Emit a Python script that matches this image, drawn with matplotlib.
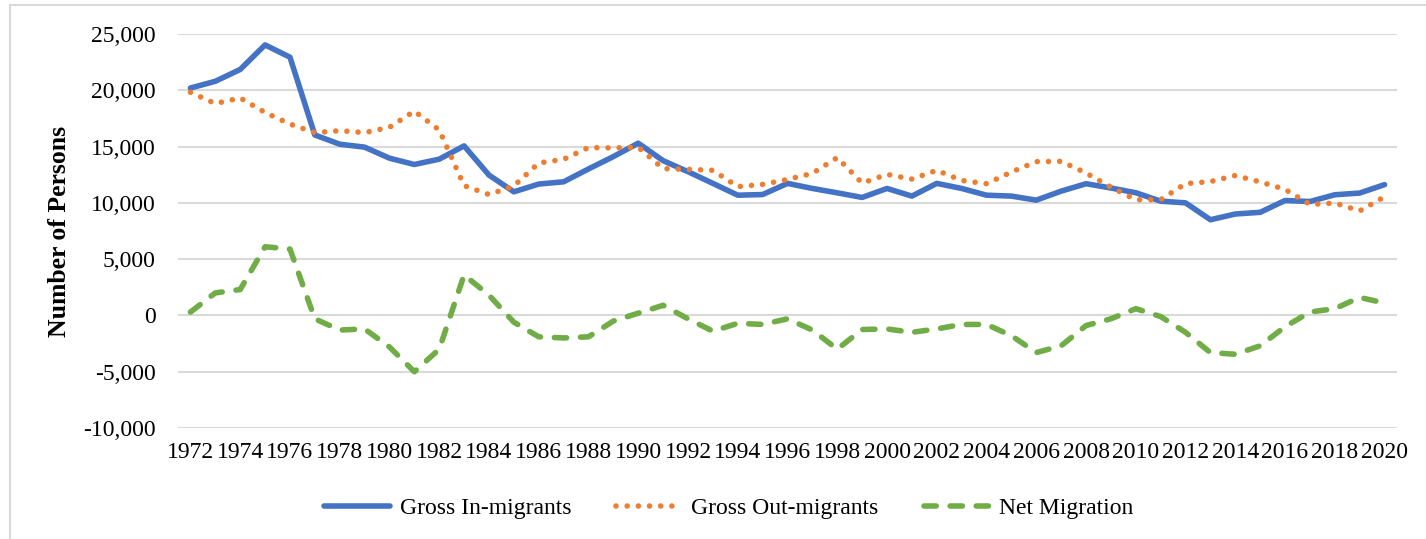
import matplotlib
matplotlib.use("Agg")
import matplotlib.pyplot as plt
from matplotlib.patches import Rectangle
from matplotlib.ticker import FuncFormatter

years = list(range(1972, 2021))
gross_in = [20200, 20800, 21850, 24030, 22940, 16030, 15210, 14950, 13970, 13410,
            13880, 15060, 12470, 10980, 11670, 11870, 13010, 14110, 15300, 13750,
            12770, 11730, 10680, 10740, 11730, 11280, 10890, 10480, 11280, 10600,
            11730, 11280, 10680, 10600, 10240, 11040, 11700, 11320, 10900, 10150,
            10000, 8500, 9010, 9160, 10210, 10120, 10720, 10870, 11620]
gross_out = [19820, 18820, 19320, 18030, 17000, 16240, 16410, 16240, 16710, 18150,
             16470, 11530, 10740, 11500, 13540, 13870, 14910, 14880, 14940, 13040,
             12980, 12890, 11440, 11640, 12080, 12620, 14020, 11760, 12530, 12110,
             12890, 11990, 11700, 12740, 13660, 13690, 12650, 11400, 10280, 10280,
             11710, 11890, 12430, 11860, 11200, 9860, 9980, 9290, 10540]
net = [300, 2000, 2300, 6100, 5900, -300, -1300, -1200, -2800, -5000,
       -3000, 3600, 1800, -600, -1900, -2000, -1900, -500, 200, 900,
       -300, -1400, -700, -800, -300, -1300, -3000, -1250, -1200, -1500,
       -1200, -800, -800, -1800, -3300, -2700, -900, -300, 600, -100,
       -1500, -3300, -3450, -2700, -1000, 300, 600, 1600, 1100]
xtick_labels = [str(y) for y in years[::2]]
yticks = [-10000, -5000, 0, 5000, 10000, 15000, 20000, 25000]
series_names = ["Gross In-migrants", "Gross Out-migrants", "Net Migration"]

plt.rcParams['font.family'] = ['Liberation Serif', 'DejaVu Serif']

fig = plt.figure(figsize=(14.26, 5.39), dpi=100)
ax = fig.add_axes([178/1426, 1-428/539, (1397-178)/1426, (428-34)/539])

# chart-area border (left and top edges visible)
fig.patches.append(Rectangle((10/1426, -0.1), 1.2, 1.1 - 5/539, transform=fig.transFigure,
                             fill=False, edgecolor='#D9D9D9', linewidth=1.5, zorder=0))

x = list(range(len(years)))
lw = 4.0
ax.plot(x, gross_in, color='#4472C4', lw=lw, solid_capstyle='round',
        solid_joinstyle='round', label=series_names[0], zorder=3)
ax.plot(x, gross_out, color='#ED7D31', lw=lw, linestyle=(0, (0.01, 2.0)),
        dash_capstyle='round', label=series_names[1], zorder=4)
ax.plot(x, net, color='#70AD47', lw=lw, linestyle=(0, (2.2, 2.5)),
        dash_capstyle='round', label=series_names[2], zorder=3)

ax.set_xlim(-0.5, len(years) - 0.5)
ax.set_ylim(-10000, 25000)
ax.set_yticks(yticks)
ax.yaxis.set_major_formatter(FuncFormatter(lambda v, p: f"{int(v):,}"))
ax.set_xticks(x[::2])
ax.set_xticklabels(xtick_labels)
ax.grid(axis='y', color='#D9D9D9', lw=1.5)
ax.set_axisbelow(True)
for s in ax.spines.values():
    s.set_visible(False)
ax.tick_params(axis='both', length=0, labelsize=17)
ax.tick_params(axis='y', pad=16)
ax.tick_params(axis='x', pad=10)
ax.set_ylabel("Number of Persons", fontsize=18.5, fontweight='bold', labelpad=9)

leg = fig.legend(loc='center', bbox_to_anchor=(0.511, 1-508/539), ncol=3, frameon=False,
                 fontsize=17, handlelength=2.8, handletextpad=0.4, columnspacing=1.9)

fig.savefig("out.png", dpi=100)
